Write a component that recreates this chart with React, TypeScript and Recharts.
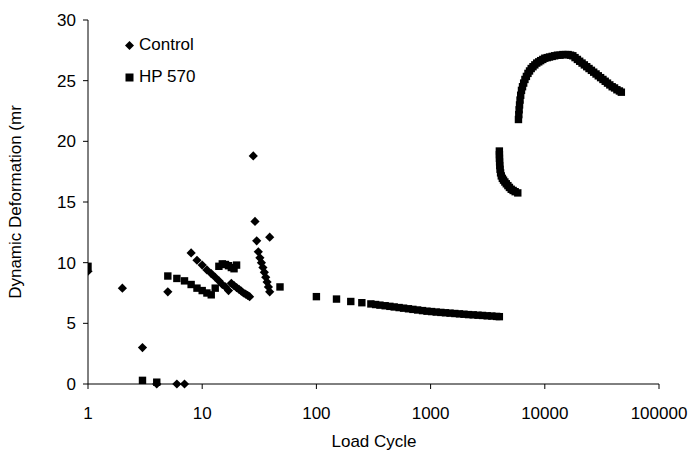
import { Scatter, ScatterChart, XAxis, YAxis } from "recharts";

const FONT = '"Liberation Sans", Arial, sans-serif';

const xTicks = [1, 10, 100, 1000, 10000, 100000];
const yTicks = [0, 5, 10, 15, 20, 25, 30];

// [load cycle, deformation]
const controlPoints: [number, number][] = [
  [1, 9.3], [2, 7.9], [3, 3.0], [4, 0], [5, 7.6], [6, 0], [7, 0],
  [8, 10.8], [9, 10.2], [10, 9.8], [11, 9.4], [12, 9.1], [13, 8.8], [14, 8.5],
  [15, 8.2], [16, 8.0], [17, 7.7], [18, 8.3], [19, 8.1], [20, 7.95], [21, 7.8],
  [22, 7.65], [23, 7.5], [24, 7.4], [25, 7.3], [26, 7.2],
  [28, 18.8], [29, 13.4], [30, 11.8], [31, 10.9], [32, 10.4], [33, 10.0],
  [34, 9.6], [35, 9.2], [36, 8.8], [37, 8.4], [38, 8.0], [39, 7.6], [39, 12.1],
];

const hpEarly: [number, number][] = [
  [1, 9.7], [3, 0.3], [4, 0.15], [5, 8.9], [6, 8.7], [7, 8.5], [8, 8.2],
  [9, 7.9], [10, 7.7], [11, 7.5], [12, 7.35], [13, 7.9], [14, 9.7], [15, 9.9],
  [16, 9.85], [17, 9.75], [18, 9.6], [19, 9.5], [20, 9.8], [48, 8.0],
  [100, 7.2], [150, 7.0], [200, 6.8], [250, 6.7],
];

const hpBand: [number, number][] = [
  [300, 6.6], [330, 6.55], [360, 6.5], [400, 6.45], [440, 6.4], [480, 6.35],
  [530, 6.3], [580, 6.25], [640, 6.2], [700, 6.15], [770, 6.1], [850, 6.05],
  [930, 6.0], [1020, 5.97], [1120, 5.93], [1230, 5.9], [1350, 5.87],
  [1480, 5.84], [1630, 5.81], [1790, 5.78], [1960, 5.75], [2150, 5.72],
  [2360, 5.7], [2600, 5.67], [2850, 5.65], [3130, 5.62], [3440, 5.6],
  [3780, 5.57], [4000, 5.55],
];

const hpLowerArc: [number, number][] = [
  [4000, 19.2], [4005, 18.9], [4010, 18.6], [4020, 18.3], [4035, 18.0],
  [4060, 17.7], [4100, 17.4], [4160, 17.15], [4250, 16.95], [4350, 16.8],
  [4470, 16.65], [4600, 16.5], [4750, 16.35], [4900, 16.2], [5080, 16.05],
  [5280, 15.95], [5500, 15.85], [5800, 15.75],
];

const hpUpperArc: [number, number][] = [
  [5880, 21.8], [5920, 22.2], [5960, 22.6], [6010, 23.0], [6070, 23.4],
  [6150, 23.8], [6250, 24.2], [6380, 24.5], [6530, 24.8], [6700, 25.1],
  [6900, 25.35], [7120, 25.6], [7350, 25.8], [7600, 26.0], [7880, 26.15],
  [8180, 26.3], [8500, 26.45], [8850, 26.55], [9200, 26.65], [9600, 26.75],
  [10000, 26.85], [10500, 26.9], [11000, 26.95], [11600, 27.0], [12200, 27.05],
  [12900, 27.1], [13600, 27.1], [14400, 27.15], [15200, 27.15], [16000, 27.15],
  [16800, 27.1], [17600, 27.05], [18400, 26.9], [19300, 26.75], [20200, 26.6],
  [21200, 26.45], [22200, 26.3], [23300, 26.15], [24400, 26.0], [25600, 25.85],
  [26800, 25.7], [28100, 25.55], [29400, 25.4], [30800, 25.25], [32300, 25.1],
  [33800, 24.95], [35400, 24.8], [37100, 24.65], [38900, 24.5], [40800, 24.4],
  [42800, 24.25], [45000, 24.15], [46800, 24.05],
];

const toRows = (pts: [number, number][]) => pts.map(([x, y]) => ({ x, y }));
const controlData = toRows(controlPoints);
const hpData = toRows([...hpEarly, ...hpBand, ...hpLowerArc, ...hpUpperArc]);

const Diamond = ({ cx, cy }: any) => (
  <path d={`M${cx},${cy - 4.6}L${cx + 4.6},${cy}L${cx},${cy + 4.6}L${cx - 4.6},${cy}Z`} fill="#000" />
);
const Square = ({ cx, cy }: any) => (
  <rect x={cx - 3.7} y={cy - 3.7} width={7.4} height={7.4} fill="#000" />
);

const tickStyle = { fill: "#000", fontSize: 17, fontFamily: FONT };

export default function App() {
  return (
    <div style={{ position: "absolute", left: 0, top: 0, width: 691, height: 454, background: "#fff" }}>
      <ScatterChart width={691} height={454} margin={{ top: 20, right: 32, bottom: 40, left: 0 }}>
        <XAxis
          type="number" dataKey="x" scale="log" domain={[1, 100000]} ticks={xTicks}
          interval={0} height={30} tickSize={5} tickMargin={18} tick={tickStyle}
          stroke="#000" allowDataOverflow
          label={() => (
            <text x={374} y={447} textAnchor="middle" fontSize={17} fontFamily={FONT} fill="#000">
              Load Cycle
            </text>
          )}
        />
        <YAxis
          type="number" dataKey="y" domain={[0, 30]} ticks={yTicks} interval={0}
          width={88} tickSize={5} tickMargin={7} tick={tickStyle} stroke="#000"
          label={() => (
            <text x={15} y={202} transform="rotate(-90 15 202)" textAnchor="middle"
              dominantBaseline="central" fontSize={17} fontFamily={FONT} fill="#000">
              Dynamic Deformation (mr
            </text>
          )}
        />
        <Scatter name="Control" data={controlData} shape={Diamond} isAnimationActive={false} />
        <Scatter name="HP 570" data={hpData} shape={Square} isAnimationActive={false} />
      </ScatterChart>
      <div style={{ position: "absolute", left: 124, top: 29, fontFamily: FONT, fontSize: 17, color: "#000" }}>
        {[{ name: "Control", icon: "diamond" }, { name: "HP 570", icon: "square" }].map((it) => (
          <div key={it.name} style={{ display: "flex", alignItems: "center", height: 32 }}>
            <svg width={11} height={11} style={{ marginRight: 4 }}>
              {it.icon === "diamond"
                ? <path d="M5.5,1L10,5.5L5.5,10L1,5.5Z" fill="#000" />
                : <rect x={1.5} y={1.5} width={8} height={8} fill="#000" />}
            </svg>
            <span>{it.name}</span>
          </div>
        ))}
      </div>
    </div>
  );
}
